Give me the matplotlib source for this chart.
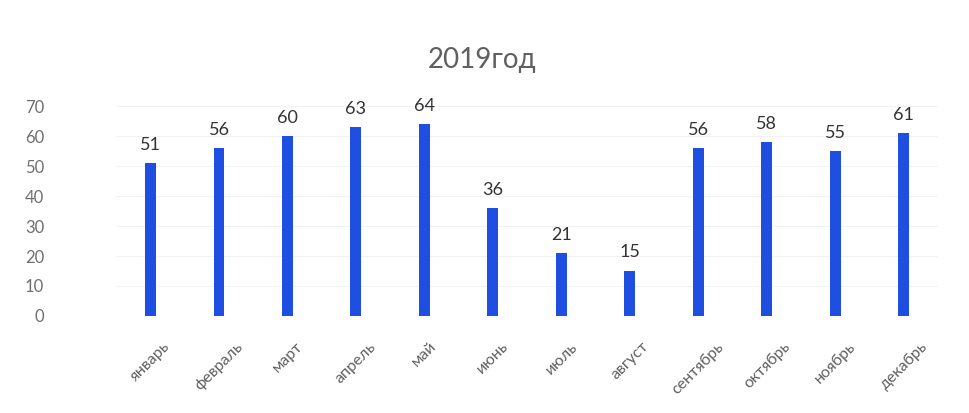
import matplotlib
matplotlib.use('Agg')
import matplotlib.pyplot as plt

# данные за 2019 год
months = ['январь', 'февраль', 'март', 'апрель', 'май', 'июнь',
          'июль', 'август', 'сентябрь', 'октябрь', 'ноябрь', 'декабрь']
values = [51, 56, 60, 63, 64, 36, 21, 15, 56, 58, 55, 61]
yticks = [0, 10, 20, 30, 40, 50, 60, 70]

plt.rcParams['font.family'] = ['Lato', 'DejaVu Sans']

fig = plt.figure(figsize=(9.69, 4.13), dpi=100)
ax = fig.add_axes([0.12, 0.235, 0.848, 0.508])

x = list(range(len(months)))
ax.bar(x, values, width=0.16, color='#1f4fe0', zorder=3)

for xi, v in zip(x, values):
    ax.text(xi, v + 3.5, str(v), ha='center', va='bottom', fontsize=13, color='#333333')

ax.set_xlim(-0.5, len(months) - 0.5)
ax.set_ylim(0, 70)
ax.set_yticks(yticks)
ax.set_yticklabels([str(t) for t in yticks], fontsize=12, color='#707070')
ax.set_xticks(x)
ax.set_xticklabels(months, rotation=45, ha='center', va='top',
                   fontsize=11.5, color='#606060')
ax.tick_params(length=0, axis='y', pad=52)
ax.tick_params(length=0, axis='x', pad=17)
ax.grid(axis='y', color='#f2f2f2', linewidth=0.8, zorder=0)
for s in ax.spines.values():
    s.set_visible(False)

fig.text(0.498, 0.855, '2019год', ha='center', va='center', fontsize=20, color='#606060')

fig.savefig('out.png', dpi=100)
